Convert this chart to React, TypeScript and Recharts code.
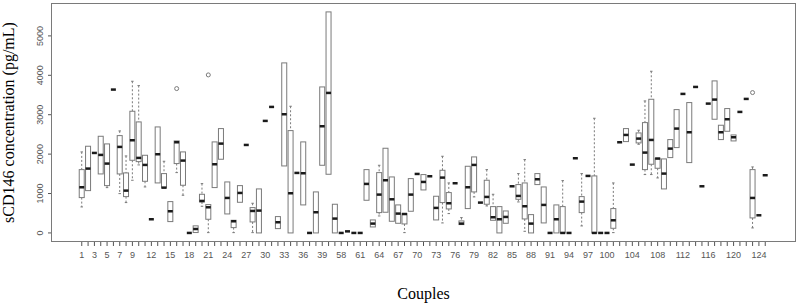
import { ComposedChart, Bar, XAxis, YAxis } from "recharts";

// couple ids, one box per couple (ids 41-56 are absent)
const COUPLES = [
  1, 2, 3, 4, 5, 6, 7, 8, 9, 10, 11, 12, 13, 14, 15, 16, 17, 18, 19, 20,
  21, 22, 23, 24, 25, 26, 27, 28, 29, 30, 31, 32, 33, 34, 35, 36, 37, 38, 39, 40,
  57, 58, 59, 60, 61, 62, 63, 64, 65, 66, 67, 68, 69, 70, 71, 72, 73, 74, 75, 76,
  77, 78, 79, 80, 81, 82, 83, 84, 85, 86, 87, 88, 89, 90, 91, 92, 93, 94, 95, 96,
  97, 98, 99, 100, 101, 102, 103, 104, 105, 106, 107, 108, 109, 110, 111, 112, 113, 114, 115, 116,
  117, 118, 119, 120, 121, 122, 123, 124, 125,
];

// ids that get a printed label under the axis
const SHOWN_LABELS = [
  1, 3, 5, 7, 9, 12, 15, 18, 21, 24, 27, 30, 33, 36, 39, 58, 61, 64, 67, 70, 73, 76, 79,
  82, 85, 88, 91, 94, 97, 100, 104, 108, 112, 116, 120, 124,
];

const LOWER = [
  660, 1074, 2030, 1497, 1150, 3638, 998, 770, 1337, 1726, 1167, 347, 1269, 1142, 288, 1531, 956, 0, 10, 677,
  8, 1151, 1870, 482, 8, 778, 2233, 8, 0, 2843, 3198, 110, 1700, 0, 1523, 711, 0, 0, 1717, 1489,
  0, 0, 40, 0, 0, 829, 152, 431, 525, 296, 245, 8, 550, 1497, 1091, 1438, 330, 254, 491, 1261,
  212, 618, 914, 770, 685, 321, 0, 245, 1184, 787, 42, 0, 1227, 254, 0, 0, 0, 0, 1895, 178,
  1447, 0, 0, 0, 8, 2301, 2318, 1734, 2250, 1481, 1481, 1396, 1117, 1912, 2166, 3528, 1785, 3705, 1184, 3282,
  2885, 2369, 2580, 2335, 3071, 3401, 127, 448, 1464,
];

const Q1 = [
  897, 1074, 2030, 1497, 1201, 3638, 1497, 922, 1844, 1810, 1311, 347, 1269, 1142, 288, 1760, 1210, 0, 10, 787,
  347, 1151, 1870, 482, 135, 778, 2233, 279, 0, 2843, 3198, 110, 1700, 0, 1523, 711, 0, 0, 1717, 1489,
  0, 0, 40, 0, 0, 829, 152, 516, 525, 296, 245, 228, 550, 1497, 1091, 1438, 330, 770, 609, 1261,
  212, 618, 1041, 770, 728, 321, 0, 245, 1184, 854, 355, 0, 1227, 254, 0, 0, 0, 0, 1895, 516,
  1447, 0, 0, 0, 118, 2301, 2318, 1734, 2284, 1607, 1743, 1641, 1117, 1912, 2166, 3528, 1785, 3705, 1184, 3282,
  2885, 2369, 2580, 2335, 3071, 3401, 381, 448, 1464,
];

const MEDIAN = [
  1159, 1633, 2030, 1980, 1760, 3638, 2183, 1074, 2352, 1904, 1726, 347, 1997, 1150, 550, 2301, 1836, 0, 100, 812,
  651, 1743, 2267, 888, 296, 1015, 2233, 558, 567, 2843, 3198, 271, 3012, 1007, 1523, 1514, 0, 525, 2707, 3553,
  364, 0, 40, 0, 0, 1244, 237, 973, 1337, 854, 491, 480, 973, 1497, 1294, 1438, 635, 1404, 753, 1261,
  237, 1159, 1726, 770, 914, 398, 347, 406, 1184, 939, 677, 237, 1362, 711, 0, 347, 0, 0, 1895, 795,
  1447, 0, 0, 0, 321, 2301, 2487, 1734, 2394, 2039, 2360, 1887, 1506, 2140, 2648, 3528, 2555, 3705, 1184, 3282,
  3384, 2555, 2885, 2428, 3071, 3401, 888, 448, 1464,
];

const Q3 = [
  1607, 2200, 2030, 2453, 2259, 3638, 2470, 1523, 3088, 2817, 1971, 347, 2690, 1506, 795, 2335, 2056, 0, 180, 981,
  719, 2310, 2648, 1294, 321, 1201, 2233, 643, 1117, 2843, 3198, 415, 4315, 2597, 1523, 2310, 0, 1041, 3705, 5609,
  728, 0, 40, 0, 0, 1607, 330, 1531, 2149, 1421, 711, 491, 1379, 1497, 1481, 1438, 931, 1590, 1024, 1261,
  305, 1692, 1929, 770, 1337, 668, 668, 558, 1184, 1227, 1269, 465, 1506, 1167, 0, 711, 668, 0, 1895, 922,
  1447, 1447, 0, 0, 618, 2301, 2648, 1734, 2538, 2800, 3392, 1895, 1878, 2369, 3130, 3528, 3308, 3705, 1184, 3282,
  3858, 2733, 3156, 2487, 3071, 3401, 1607, 448, 1464,
];

const UPPER = [
  2056, 2200, 2030, 2453, 2259, 3638, 2589, 1954, 3849, 3739, 1971, 347, 2690, 1819, 795, 2335, 2056, 0, 180, 1252,
  719, 2310, 2648, 1294, 321, 1201, 2233, 753, 1117, 2843, 3198, 415, 4315, 3215, 1523, 2310, 0, 1041, 3705, 5609,
  728, 0, 40, 0, 0, 1607, 330, 1717, 2149, 1421, 711, 491, 1379, 1497, 1481, 1438, 931, 1946, 1269, 1261,
  389, 1692, 1929, 770, 1607, 981, 668, 558, 1184, 1506, 1861, 465, 1506, 1167, 0, 711, 1328, 0, 1895, 1506,
  1447, 2910, 0, 0, 1269, 2301, 2648, 1734, 2606, 3350, 4103, 1895, 1878, 2369, 3130, 3528, 3308, 3705, 1184, 3282,
  3858, 2733, 3156, 2487, 3071, 3401, 1675, 448, 1464,
];

const OUTLIER_COUPLES = [16, 21, 123];
const OUTLIER_VALUES = [3663, 4010, 3562];

const Y_TICKS = [0, 1000, 2000, 3000, 4000, 5000];

const data = COUPLES.map((couple, i) => {
  const outliers = OUTLIER_VALUES.filter((_, k) => OUTLIER_COUPLES[k] === couple);
  const all = [LOWER[i], UPPER[i], ...outliers];
  return {
    couple,
    low: LOWER[i],
    q1: Q1[i],
    med: MEDIAN[i],
    q3: Q3[i],
    high: UPPER[i],
    outliers,
    range: [Math.min(...all), Math.max(...all)],
  };
});

const GREY = "#7a7a7a";

// draws one R style box from the range bar recharts hands us
const BoxShape = (props: any) => {
  const { x, y, width, height, payload } = props;
  const [lo, hi] = payload.range;
  const top = Math.min(y, y + height);
  const bottom = Math.max(y, y + height);
  const py = (v: number) => (hi === lo ? top : bottom - ((bottom - top) * (v - lo)) / (hi - lo));
  const cx = x + width / 2;
  const staple = width / 4;
  const yq1 = py(payload.q1);
  const yq3 = py(payload.q3);
  return (
    <g>
      {payload.high > payload.q3 && (
        <>
          <line x1={cx} x2={cx} y1={py(payload.high)} y2={yq3} stroke={GREY} strokeDasharray="2 2" />
          <line x1={cx - staple} x2={cx + staple} y1={py(payload.high)} y2={py(payload.high)} stroke={GREY} />
        </>
      )}
      {payload.low < payload.q1 && (
        <>
          <line x1={cx} x2={cx} y1={yq1} y2={py(payload.low)} stroke={GREY} strokeDasharray="2 2" />
          <line x1={cx - staple} x2={cx + staple} y1={py(payload.low)} y2={py(payload.low)} stroke={GREY} />
        </>
      )}
      <rect x={x} y={yq3} width={width} height={Math.max(yq1 - yq3, 0)} fill="#fff" stroke={GREY} />
      <line x1={x} x2={x + width} y1={py(payload.med)} y2={py(payload.med)} stroke="#1a1a1a" strokeWidth={2.5} />
      {payload.outliers.map((o: number, k: number) => (
        <circle key={k} cx={cx} cy={py(o)} r={2} fill="none" stroke={GREY} />
      ))}
    </g>
  );
};

const XTick = ({ x, y, payload }: any) =>
  SHOWN_LABELS.includes(payload.value) ? (
    <text x={x} y={y + 10} textAnchor="middle" fontSize={9} fill="#555" fontFamily="Liberation Sans, Arial">
      {payload.value}
    </text>
  ) : null;

const YTick = ({ x, y, payload }: any) => (
  <text
    x={x - 3}
    y={y}
    transform={`rotate(-90, ${x - 3}, ${y})`}
    textAnchor="middle"
    fontSize={9}
    fill="#555"
    fontFamily="Liberation Sans, Arial"
  >
    {payload.value}
  </text>
);

export default function App() {
  return (
    <div style={{ position: "absolute", left: 0, top: 0, width: 800, height: 308, background: "#fff" }}>
      <ComposedChart width={800} height={308} data={data} margin={{ top: 3, right: 4, bottom: 0, left: 0 }}>
        <XAxis
          dataKey="couple"
          type="category"
          interval={0}
          height={66}
          padding={{ left: 27.6, right: 27.6 }}
          axisLine={false}
          tickLine={{ stroke: "#555" }}
          tickSize={4}
          tick={<XTick />}
          label={{
            value: "Couples",
            position: "insideBottom",
            offset: 9,
            fontSize: 16,
            fill: "#000",
            fontFamily: "Liberation Serif, Times New Roman, serif",
          }}
        />
        <YAxis
          type="number"
          domain={[-230, 5835]}
          allowDataOverflow
          ticks={Y_TICKS}
          width={51}
          axisLine={false}
          tickLine={{ stroke: "#555" }}
          tickSize={3}
          tick={<YTick />}
          label={{
            value: "sCD146 concentration (pg/mL)",
            angle: -90,
            position: "insideLeft",
            offset: 8,
            fontSize: 16,
            fill: "#000",
            fontFamily: "Liberation Serif, Times New Roman, serif",
            style: { textAnchor: "middle" },
          }}
        />
        <Bar dataKey="range" shape={<BoxShape />} isAnimationActive={false} />
      </ComposedChart>
      <div
        style={{
          position: "absolute",
          left: 51,
          top: 3,
          width: 745,
          height: 239,
          border: `1px solid ${GREY}`,
          boxSizing: "border-box",
          pointerEvents: "none",
        }}
      />
    </div>
  );
}
